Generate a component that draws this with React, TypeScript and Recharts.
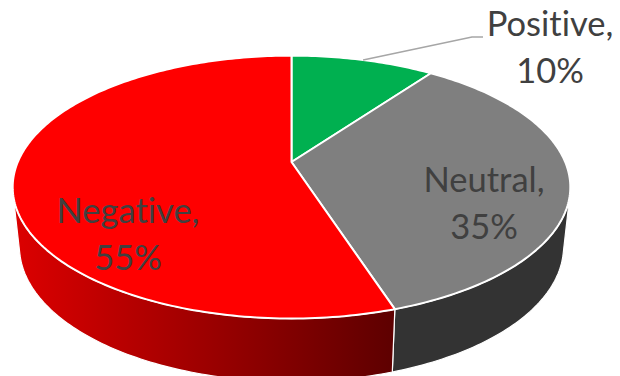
import React from 'react';
import { PieChart, Pie, Cell } from 'recharts';

const categories = ['Positive', 'Neutral', 'Negative'];
const shares = [10, 35, 55];
const topColors = ['#00B050', '#7F7F7F', '#FF0000'];
const wallColors = ['#006B30', '#333333', 'url(#redWall)'];

const chartData = categories.map((name, i) => ({ name, value: shares[i] }));

// Label anchors: [centre x, first baseline]
const labelSpots: Record<string, [number, number]> = {
  Positive: [550, 36],
  Neutral: [484, 192],
  Negative: [128, 223],
};
const LABEL_SIZE = 34.5;
const LINE_GAP = 47;

// Perspective of the disc: rim points are pushed through a simple projective map
const TILT = -0.1908;
const FLATTEN = 0.4628;
const RIM_RADIUS = 273.7;
const BASE_SCALE = 267 / 273.7;
const BASE_SCALE_Y = 130 / 126.7;
const BASE_DROP = 59;
// Part of the rim whose side wall faces the viewer (degrees clockwise from 12 o'clock)
const WALL_FROM = 104;
const WALL_TO = 256;

const project = (cx: number, cy: number, r: number, clockDeg: number, base = false) => {
  const rad = (clockDeg * Math.PI) / 180;
  const u = Math.sin(rad);
  const v = -Math.cos(rad);
  const w = 1 + TILT * v;
  const scaleX = base ? BASE_SCALE : 1;
  const scaleY = base ? BASE_SCALE_Y : 1;
  return {
    x: cx + (r * scaleX * u) / w,
    y: cy + (base ? BASE_DROP : 0) + (r * FLATTEN * scaleY * v) / w,
  };
};

const arcPoints = (cx: number, cy: number, r: number, from: number, to: number, base = false) => {
  const pts: string[] = [];
  const steps = Math.max(2, Math.ceil(Math.abs(to - from)));
  for (let i = 0; i <= steps; i++) {
    const p = project(cx, cy, r, from + ((to - from) * i) / steps, base);
    pts.push(`${p.x.toFixed(2)} ${p.y.toFixed(2)}`);
  }
  return pts;
};

// Tilted slice: side wall first, top face over it
const TiltedSlice = (props: any) => {
  const { cx, cy, outerRadius, startAngle, endAngle, fill, index } = props;
  const from = 90 - startAngle;
  const to = 90 - endAngle;
  const wallA = Math.max(from, WALL_FROM);
  const wallB = Math.min(to, WALL_TO);
  const top = arcPoints(cx, cy, outerRadius, from, to);
  return (
    <g>
      {wallB > wallA && (
        <path
          d={`M${arcPoints(cx, cy, outerRadius, wallA, wallB).join(' L')} L${arcPoints(cx, cy, outerRadius, wallB, wallA, true).join(' L')} Z`}
          fill={wallColors[index]}
          stroke="#fff"
          strokeWidth={1.2}
          strokeLinejoin="round"
        />
      )}
      <path
        d={`M${cx} ${cy} L${top.join(' L')} Z`}
        fill={fill}
        stroke="#fff"
        strokeWidth={2}
        strokeLinejoin="round"
      />
    </g>
  );
};

const renderLabel = (props: any) => {
  const { cx, cy, outerRadius, midAngle, name, value } = props;
  const [x, y] = labelSpots[name];
  const textProps = {
    x,
    textAnchor: 'middle' as const,
    fontFamily: 'Lato, sans-serif',
    fontSize: LABEL_SIZE,
    fill: '#404040',
    style: { fontVariantLigatures: 'none' },
  };
  const rim = project(cx, cy, outerRadius, 90 - midAngle);
  return (
    <g key={name}>
      {/* only the small slice sits outside the disc and needs a leader */}
      {name === 'Positive' && (
        <polyline
          points={`${rim.x},${rim.y} 472,37 483,37`}
          fill="none"
          stroke="#A6A6A6"
          strokeWidth={1.5}
        />
      )}
      <text {...textProps} y={y}>{`${name},`}</text>
      <text {...textProps} y={y + LINE_GAP}>{`${value}%`}</text>
    </g>
  );
};

export default function App() {
  return (
    <div style={{ position: 'absolute', left: 0, top: 0, width: 620, height: 376, background: '#fff', overflow: 'hidden' }}>
      <PieChart width={620} height={376} margin={{ top: 0, right: 0, bottom: 0, left: 0 }}>
        <defs>
          <linearGradient id="redWall" gradientUnits="userSpaceOnUse" x1={15} y1={0} x2={392} y2={0}>
            <stop offset="0%" stopColor="#DC0000" />
            <stop offset="75%" stopColor="#7E0000" />
            <stop offset="100%" stopColor="#5E0000" />
          </linearGradient>
        </defs>
        <Pie
          data={chartData}
          dataKey="value"
          nameKey="name"
          cx={291.5}
          cy={162}
          innerRadius={0}
          outerRadius={RIM_RADIUS}
          startAngle={90}
          endAngle={-270}
          paddingAngle={0}
          shape={TiltedSlice}
          label={renderLabel}
          labelLine={false}
          isAnimationActive={false}
        >
          {chartData.map((d, i) => (
            <Cell key={d.name} fill={topColors[i]} />
          ))}
        </Pie>
      </PieChart>
    </div>
  );
}
